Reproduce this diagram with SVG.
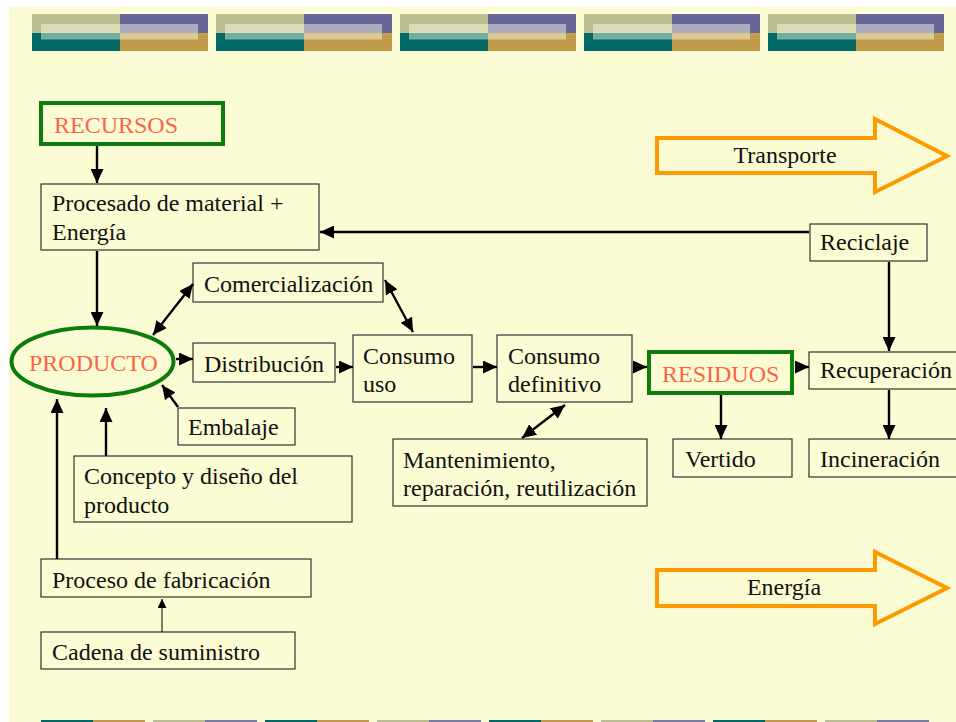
<svg xmlns="http://www.w3.org/2000/svg" width="956" height="722" viewBox="0 0 956 722">
<style>
  text { font-family: "Liberation Serif", "Times New Roman", serif; font-size: 24px; fill: #111; }
  .box { fill: none; stroke: #333; stroke-width: 1.2; }
  .gbox { fill: none; stroke: #0A7D0A; stroke-width: 4; }
  .red { fill: #FF6347; }
  .big { fill: none; stroke: #FF9900; stroke-width: 4; }
  .con { fill: none; stroke: #000; stroke-width: 2.4; }
  .thin { fill: none; stroke: #000; stroke-width: 1; }
  .ctr { text-anchor: middle; }
</style>
<defs>
  <marker id="ah" viewBox="0 0 14 13" refX="14" refY="6.5" markerWidth="14" markerHeight="13" markerUnits="userSpaceOnUse" orient="auto-start-reverse">
    <path d="M0,0 L14,6.5 L0,13 z" fill="#000"/>
  </marker>
  <marker id="ahs" viewBox="0 0 9 9" refX="9" refY="4.5" markerWidth="9" markerHeight="9" markerUnits="userSpaceOnUse" orient="auto-start-reverse">
    <path d="M0,0 L9,4.5 L0,9 z" fill="#000"/>
  </marker>
  <g id="blk">
    <rect x="0" y="0" width="88" height="19" fill="#BDBD92"/>
    <rect x="88" y="0" width="88" height="19" fill="#666699"/>
    <rect x="0" y="19" width="88" height="18" fill="#006966"/>
    <rect x="88" y="19" width="88" height="18" fill="#C09C4C"/>
    <rect x="9" y="10" width="157" height="15.5" fill="#FFFFE6" opacity="0.45"/>
  </g>
  <g id="barA">
    <rect x="0" y="0" width="52" height="2" fill="#006966"/>
    <rect x="52" y="0" width="52" height="2" fill="#C09C4C"/>
  </g>
  <g id="barB">
    <rect x="0" y="0" width="52" height="2" fill="#BDBD92"/>
    <rect x="52" y="0" width="52" height="2" fill="#7A7AA6"/>
  </g>
</defs>

<rect x="0" y="0" width="956" height="722" fill="#FFFFFF"/>
<rect x="9" y="7" width="947" height="715" fill="#FCFCD4"/>

<g id="banner">
  <use href="#blk" x="32" y="14"/>
  <use href="#blk" x="216" y="14"/>
  <use href="#blk" x="400" y="14"/>
  <use href="#blk" x="584" y="14"/>
  <use href="#blk" x="768" y="14"/>
</g>
<g id="footer">
  <use href="#barA" x="41" y="720"/>
  <use href="#barB" x="153" y="720"/>
  <use href="#barA" x="265" y="720"/>
  <use href="#barB" x="377" y="720"/>
  <use href="#barA" x="489" y="720"/>
  <use href="#barB" x="601" y="720"/>
  <use href="#barA" x="713" y="720"/>
  <use href="#barB" x="825" y="720"/>
</g>

<g id="transporte">
  <polygon class="big" points="657,138 875,138 875,119 947,156 875,192 875,173 657,173"/>
  <text x="785" y="163" class="ctr">Transporte</text>
</g>
<g id="energia-arrow">
  <polygon class="big" points="657,570 875,570 875,552 947,588 875,624 875,606 657,606"/>
  <text x="784" y="595" class="ctr">Energía</text>
</g>

<g id="recursos">
  <rect class="gbox" x="41" y="103" width="182" height="41"/>
  <text x="54" y="133" class="red">RECURSOS</text>
</g>
<g id="procesado">
  <rect class="box" x="41" y="184" width="278" height="66"/>
  <text x="52" y="211">Procesado de material +</text>
  <text x="52" y="240">Energía</text>
</g>
<g id="reciclaje">
  <rect class="box" x="810" y="224" width="117" height="37"/>
  <text x="820" y="250">Reciclaje</text>
</g>
<g id="producto">
  <ellipse cx="92.5" cy="361.5" rx="81" ry="34" fill="none" stroke="#0A7D0A" stroke-width="4"/>
  <text x="29" y="371" class="red">PRODUCTO</text>
</g>
<g id="comercializacion">
  <rect class="box" x="193" y="263" width="190" height="39"/>
  <text x="204" y="292">Comercialización</text>
</g>
<g id="distribucion">
  <rect class="box" x="193" y="343" width="142" height="39"/>
  <text x="204" y="372">Distribución</text>
</g>
<g id="consumo-uso">
  <rect class="box" x="353" y="335" width="119" height="67"/>
  <text x="363" y="364">Consumo</text>
  <text x="363" y="392">uso</text>
</g>
<g id="consumo-definitivo">
  <rect class="box" x="497" y="335" width="135" height="67"/>
  <text x="508" y="364">Consumo</text>
  <text x="508" y="392">definitivo</text>
</g>
<g id="residuos">
  <rect class="gbox" x="649" y="352" width="143" height="41"/>
  <text x="662" y="382" class="red">RESIDUOS</text>
</g>
<g id="recuperacion">
  <rect class="box" x="809" y="352" width="160" height="37"/>
  <text x="820" y="378">Recuperación</text>
</g>
<g id="embalaje">
  <rect class="box" x="178" y="408" width="117" height="37"/>
  <text x="188" y="435">Embalaje</text>
</g>
<g id="mantenimiento">
  <rect class="box" x="393" y="439" width="254" height="67"/>
  <text x="403" y="468">Mantenimiento,</text>
  <text x="403" y="496">reparación, reutilización</text>
</g>
<g id="vertido">
  <rect class="box" x="673" y="439" width="119" height="38"/>
  <text x="685" y="467">Vertido</text>
</g>
<g id="incineracion">
  <rect class="box" x="809" y="439" width="160" height="38"/>
  <text x="820" y="467">Incineración</text>
</g>
<g id="concepto">
  <rect class="box" x="74" y="456" width="278" height="66"/>
  <text x="84" y="484">Concepto y diseño del</text>
  <text x="84" y="513">producto</text>
</g>
<g id="proceso-fabricacion">
  <rect class="box" x="41" y="559" width="270" height="38"/>
  <text x="52" y="588">Proceso de fabricación</text>
</g>
<g id="cadena">
  <rect class="box" x="41" y="632" width="254" height="37"/>
  <text x="52" y="660">Cadena de suministro</text>
</g>

<g id="connectors">
  <path class="con" d="M97,146 L97,183" marker-end="url(#ah)"/>
  <path class="con" d="M97,251 L97,326" marker-end="url(#ah)"/>
  <path class="con" d="M809,232 L320,232" marker-end="url(#ah)"/>
  <path class="con" d="M889,262 L889,351" marker-end="url(#ah)"/>
  <path class="con" d="M153,335 L193,284" marker-start="url(#ah)" marker-end="url(#ah)"/>
  <path class="con" d="M385,280 L413,332" marker-start="url(#ah)" marker-end="url(#ah)"/>
  <path class="con" d="M176,359 L193,359" marker-end="url(#ah)"/>
  <path class="con" d="M336,367 L353,367" marker-end="url(#ah)"/>
  <path class="con" d="M473,367 L497,367" marker-end="url(#ah)"/>
  <path class="con" d="M633,367 L647,367" marker-end="url(#ah)"/>
  <path class="con" d="M565,405 L522,438" marker-start="url(#ah)" marker-end="url(#ah)"/>
  <path class="con" d="M795,367 L809,367" marker-end="url(#ah)"/>
  <path class="con" d="M721,395 L721,439" marker-end="url(#ah)"/>
  <path class="con" d="M889,390 L889,439" marker-end="url(#ah)"/>
  <path class="con" d="M178,407 L162,385" marker-end="url(#ah)"/>
  <path class="con" d="M106,456 L106,408" marker-end="url(#ah)"/>
  <path class="con" d="M57,559 L57,399" marker-end="url(#ah)"/>
  <path class="thin" d="M162,632 L162,599" marker-end="url(#ahs)"/>
</g>
</svg>
